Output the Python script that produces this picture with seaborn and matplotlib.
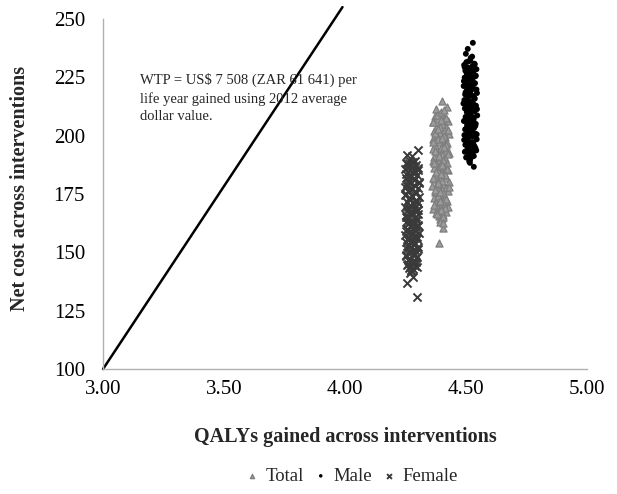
import matplotlib
matplotlib.use("Agg")
import matplotlib.pyplot as plt
import seaborn as sns

# WTP threshold line
wtp_x = [3.00, 3.99]
wtp_y = [100, 255]

# Female cloud (x = QALYs, y = net cost)
female_x = [4.264, 4.281, 4.253, 4.296, 4.270, 4.304, 4.250, 4.288, 4.260, 4.299,
            4.275, 4.252, 4.291, 4.266, 4.306, 4.256, 4.284, 4.249, 4.301, 4.271,
            4.261, 4.294, 4.251, 4.279, 4.305, 4.265, 4.290, 4.255, 4.302, 4.268,
            4.250, 4.286, 4.297, 4.258, 4.277, 4.304, 4.253, 4.292, 4.266, 4.300,
            4.251, 4.283, 4.262, 4.302, 4.273, 4.255, 4.293, 4.268, 4.306, 4.249,
            4.287, 4.259, 4.298, 4.274, 4.252, 4.290, 4.264, 4.303, 4.257, 4.280,
            4.295, 4.262, 4.285, 4.253, 4.300, 4.270, 4.260, 4.292, 4.276, 4.258,
            4.289, 4.267, 4.282, 4.272, 4.302, 4.256, 4.277, 4.269, 4.281, 4.256,
            4.298,
            4.291, 4.257, 4.276, 4.301, 4.252, 4.268, 4.286, 4.305, 4.255, 4.279,
            4.295, 4.250, 4.266, 4.300, 4.284, 4.259, 4.304, 4.272, 4.253, 4.293,
            4.263, 4.302, 4.283, 4.251, 4.274, 4.297, 4.261, 4.289, 4.256, 4.303,
            4.270, 4.252, 4.295, 4.281, 4.262, 4.299, 4.275, 4.265, 4.260, 4.286,
            4.278, 4.290, 4.262, 4.280, 4.271, 4.285, 4.279, 4.268, 4.294, 4.266]
female_y = [189.5, 188.7, 188.1, 187.4, 186.8, 186.0, 185.5, 184.7, 184.1, 183.3,
            182.8, 182.0, 181.4, 180.6, 180.1, 179.3, 178.6, 178.0, 177.4, 176.7,
            176.1, 175.4, 174.8, 174.0, 173.5, 172.8, 172.1, 171.5, 170.9, 170.2,
            169.6, 168.9, 168.3, 167.6, 167.0, 166.3, 165.8, 165.0, 164.5, 163.8,
            163.1, 162.6, 161.9, 161.2, 160.7, 160.0, 159.3, 158.7, 158.1, 157.4,
            156.8, 156.1, 155.5, 154.8, 154.2, 153.6, 152.9, 152.3, 151.6, 151.0,
            150.4, 149.7, 149.1, 148.4, 147.8, 147.2, 146.5, 145.9, 145.2, 144.6,
            144.0, 143.3, 142.7, 142.1, 193.9, 191.7, 191.3, 141.0, 139.4, 136.9,
            130.9,
            189.1, 187.8, 186.4, 185.1, 183.7, 182.4, 181.0, 179.7, 178.3, 177.0,
            175.7, 174.4, 173.1, 171.8, 170.5, 169.2, 167.9, 166.6, 165.3, 164.0,
            162.8, 161.5, 160.3, 159.0, 157.7, 156.4, 155.2, 153.9, 152.6, 151.3,
            150.0, 148.7, 147.5, 146.2, 144.9, 143.6, 142.4, 188.2, 176.4, 168.1,
            158.4, 149.4, 180.3, 163.4, 154.5, 145.6, 184.4, 172.4, 161.0, 150.7]

# Total cloud
total_x = [4.398, 4.371, 4.415, 4.384, 4.428, 4.365, 4.405, 4.391, 4.420, 4.376,
           4.410, 4.368, 4.395, 4.431, 4.381, 4.413, 4.363, 4.402, 4.387, 4.424,
           4.373, 4.408, 4.396, 4.366, 4.418, 4.383, 4.429, 4.400, 4.370, 4.412,
           4.389, 4.364, 4.422, 4.378, 4.404, 4.393, 4.367, 4.426, 4.385, 4.411,
           4.374, 4.401, 4.419, 4.369, 4.394, 4.430, 4.380, 4.407, 4.362, 4.416,
           4.390, 4.425, 4.372, 4.403, 4.386, 4.414, 4.367, 4.399, 4.421, 4.377,
           4.409, 4.382, 4.427, 4.365, 4.397, 4.417, 4.375, 4.406, 4.388, 4.400,
           4.392, 4.401, 4.376, 4.421, 4.405, 4.388,
           4.381, 4.419, 4.366, 4.403, 4.392, 4.428, 4.374, 4.410, 4.385, 4.363,
           4.416, 4.398, 4.371, 4.425, 4.389, 4.407, 4.368, 4.394, 4.421, 4.378,
           4.412, 4.365, 4.400, 4.387, 4.430, 4.373, 4.406, 4.383, 4.418, 4.395,
           4.369, 4.413, 4.391, 4.379, 4.404, 4.397, 4.402, 4.389, 4.396, 4.393,
           4.399, 4.385, 4.408, 4.401, 4.386, 4.394, 4.396, 4.392, 4.409, 4.404]
total_y = [209.0, 208.3, 207.7, 207.0, 206.4, 205.7, 205.1, 204.5, 203.8, 203.2,
           202.5, 201.9, 201.2, 200.6, 200.0, 199.3, 198.7, 198.0, 197.4, 196.8,
           196.1, 195.5, 194.8, 194.2, 193.6, 192.9, 192.3, 191.6, 191.0, 190.4,
           189.7, 189.1, 188.4, 187.8, 187.2, 186.5, 185.9, 185.2, 184.6, 184.0,
           183.3, 182.7, 182.0, 181.4, 180.8, 180.1, 179.5, 178.8, 178.2, 177.6,
           176.9, 176.3, 175.6, 175.0, 174.4, 173.7, 173.1, 172.4, 171.8, 171.2,
           170.5, 169.9, 169.2, 168.6, 168.0, 167.3, 166.7, 166.0, 165.4, 164.8,
           164.2, 214.9, 211.4, 212.3, 160.4, 154.0,
           208.6, 207.3, 206.0, 204.8, 203.5, 202.2, 200.9, 199.7, 198.4, 197.1,
           195.8, 194.5, 193.3, 192.0, 190.7, 189.4, 188.1, 186.9, 185.6, 184.3,
           183.0, 181.7, 180.5, 179.2, 177.9, 176.6, 175.3, 174.1, 172.8, 171.5,
           170.2, 168.9, 167.7, 166.4, 165.1, 206.7, 198.9, 191.3, 183.6, 175.9,
           168.3, 202.8, 195.1, 187.5, 179.8, 172.0, 210.2, 163.0, 211.0, 162.5]

# Male cloud
male_x = [4.518, 4.502, 4.535, 4.493, 4.526, 4.510, 4.544, 4.498, 4.521, 4.531,
          4.506, 4.540, 4.495, 4.515, 4.528, 4.500, 4.538, 4.512, 4.491, 4.524,
          4.533, 4.504, 4.519, 4.546, 4.497, 4.527, 4.509, 4.537, 4.494, 4.516,
          4.529, 4.501, 4.542, 4.513, 4.496, 4.523, 4.536, 4.507, 4.520, 4.547,
          4.499, 4.514, 4.532, 4.492, 4.525, 4.541, 4.505, 4.517, 4.534, 4.497,
          4.522, 4.509, 4.539, 4.494, 4.530, 4.511, 4.545, 4.503, 4.526, 4.515,
          4.498, 4.536, 4.508, 4.521, 4.543, 4.496, 4.528, 4.512, 4.533, 4.501,
          4.519, 4.529, 4.508, 4.500, 4.533, 4.517,
          4.509, 4.537, 4.495, 4.524, 4.503, 4.541, 4.516, 4.492, 4.530, 4.507,
          4.544, 4.499, 4.521, 4.535, 4.511, 4.490, 4.527, 4.546, 4.504, 4.518,
          4.533, 4.497, 4.514, 4.539, 4.501, 4.525, 4.545, 4.508, 4.493, 4.531,
          4.516, 4.540, 4.500, 4.523, 4.512, 4.519, 4.514, 4.522, 4.517, 4.520,
          4.513, 4.524, 4.518, 4.515, 4.521, 4.511, 4.520, 4.516, 4.526, 4.514]
male_y = [232.0, 231.4, 230.8, 230.2, 229.6, 229.0, 228.4, 227.8, 227.2, 226.6,
          226.0, 225.4, 224.8, 224.2, 223.6, 223.0, 222.4, 221.8, 221.2, 220.6,
          220.0, 219.4, 218.8, 218.2, 217.6, 217.0, 216.4, 215.8, 215.2, 214.6,
          214.0, 213.4, 212.8, 212.2, 211.6, 211.0, 210.4, 209.8, 209.2, 208.6,
          208.0, 207.4, 206.8, 206.2, 205.6, 205.0, 204.4, 203.8, 203.2, 202.6,
          202.0, 201.4, 200.8, 200.2, 199.6, 199.0, 198.4, 197.8, 197.2, 196.6,
          196.0, 195.4, 194.8, 194.2, 193.6, 193.0, 192.4, 191.8, 191.2, 190.6,
          190.0, 239.7, 237.1, 235.0, 186.6, 188.3,
          231.7, 230.5, 229.3, 228.1, 226.9, 225.7, 224.5, 223.3, 222.1, 220.9,
          219.7, 218.5, 217.3, 216.1, 214.9, 213.7, 212.5, 211.3, 210.1, 208.9,
          207.7, 206.5, 205.3, 204.1, 202.9, 201.7, 200.5, 199.3, 198.1, 196.9,
          195.7, 194.5, 193.3, 192.1, 190.9, 228.7, 221.5, 214.3, 207.1, 199.9,
          192.7, 225.1, 217.9, 210.7, 203.5, 196.3, 233.2, 189.4, 233.8, 188.9]

x_ticks = [3.00, 3.50, 4.00, 4.50, 5.00]
y_ticks = [100, 125, 150, 175, 200, 225, 250]

sns.set_style("white")
plt.rcParams["font.family"] = ["Liberation Serif", "DejaVu Serif"]

fig = plt.figure(figsize=(6.17, 4.94), dpi=100)
ax = fig.add_axes([0.167, 0.253, 0.784, 0.709])

sns.lineplot(x=wtp_x, y=wtp_y, ax=ax, color="black", linewidth=1.8,
             clip_on=False, estimator=None, sort=False)

sns.scatterplot(x=total_x, y=total_y, ax=ax, marker="^", s=26,
                color="#9c9c9c", edgecolor="#7e7e7e", linewidth=0.9,
                label="Total")
sns.scatterplot(x=male_x, y=male_y, ax=ax, marker="o", s=18,
                color="black", edgecolor="none", label="Male")
sns.scatterplot(x=female_x, y=female_y, ax=ax, marker="x", s=34,
                color="#3a3a3a", linewidth=1.4, label="Female")

ax.set_xlim(3.0, 5.0)
ax.set_ylim(100, 250)
ax.set_xticks(x_ticks)
ax.set_xticklabels([f"{t:.2f}" for t in x_ticks])
ax.set_yticks(y_ticks)

for s in ["top", "right"]:
    ax.spines[s].set_visible(False)
for s in ["left", "bottom"]:
    ax.spines[s].set_color("#b0b0b0")
    ax.spines[s].set_linewidth(1.0)
ax.tick_params(axis="both", which="major", direction="out", length=5,
               color="#b0b0b0", labelsize=15, labelcolor="black")
ax.tick_params(axis="y", pad=8)
ax.tick_params(axis="x", pad=3)

ax.set_xlabel("QALYs gained across interventions", fontsize=14.5, fontweight="bold")
ax.set_ylabel("Net cost across interventions", fontsize=14.5, fontweight="bold")
ax.xaxis.set_label_coords(0.5, -0.165)
ax.yaxis.set_label_coords(-0.15, 0.515)

ax.text(0.076, 0.845, "WTP = US$ 7 508 (ZAR 61 641) per\nlife year gained using 2012 average\ndollar value.",
        transform=ax.transAxes, fontsize=10.5, va="top", ha="left", linespacing=1.45)

handles, labels = ax.get_legend_handles_labels()
if ax.get_legend() is not None:
    ax.get_legend().remove()
fig.legend(handles, labels, loc="center", bbox_to_anchor=(0.571, 0.036), ncol=3,
           frameon=False, fontsize=13.5, handlelength=0.6, handletextpad=0.4,
           columnspacing=0.6, markerscale=0.6)

fig.savefig("out.png", dpi=100)
